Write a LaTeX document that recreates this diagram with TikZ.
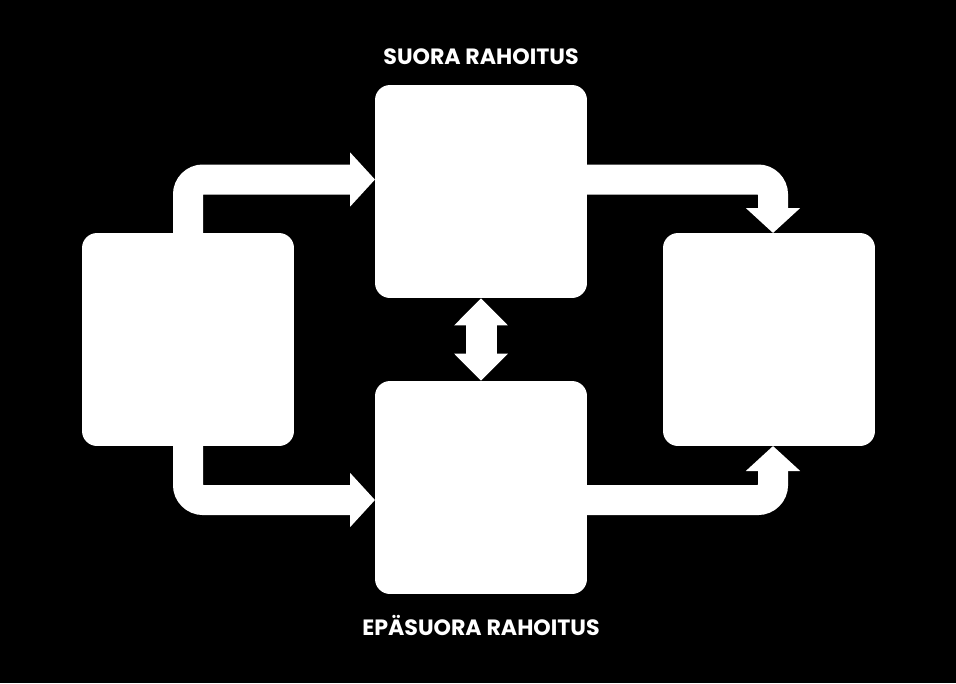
\documentclass[tikz,border=0pt]{standalone}
\usepackage{fontspec}
\setmainfont{Poppins}
\usetikzlibrary{arrows.meta}

\begin{document}
\begin{tikzpicture}[x=0.02cm, y=-0.02cm,
    block/.style={fill=white, rounded corners=0.3cm, minimum width=4.24cm, minimum height=4.26cm, inner sep=0pt},
    flow/.style={draw=white, line width=0.6cm, rounded corners=0.3cm, -{Triangle[width=1.06cm, length=0.5cm]}},
    title/.style={text=white, font=\bfseries\fontsize{12.6}{14}\selectfont}]
    \fill[black] (0,0) rectangle (956,683);
    \useasboundingbox (0,0) rectangle (956,683);

    \node[block] (L) at (188,339.5) {};
    \node[block] (T) at (481,191.5) {};
    \node[block] (B) at (481,487.5) {};
    \node[block] (R) at (769,339.5) {};

    \node[title] (TL) at (481,57) {SUORA RAHOITUS};
    \node[title] (BL) at (481,625) {EPÄSUORA RAHOITUS};

    % arrow ends
    \coordinate (Tin) at (375,179.5);
    \coordinate (Bin) at (375,500);
    \coordinate (Tout) at (580,179.5);
    \coordinate (Bout) at (580,500);
    \coordinate (Rtop) at (773,233);
    \coordinate (Rbot) at (773,446);

    \draw[flow] ([yshift=-0.1cm]L.north) |- (Tin);
    \draw[flow] ([yshift=0.1cm]L.south) |- (Bin);
    \draw[flow] (Tout) -| (Rtop);
    \draw[flow] (Bout) -| (Rbot);
    \draw[flow, line width=0.62cm, {Triangle[width=1.04cm, length=0.54cm]}-{Triangle[width=1.04cm, length=0.54cm]}] (T.south) -- (B.north);
\end{tikzpicture}
\end{document}
